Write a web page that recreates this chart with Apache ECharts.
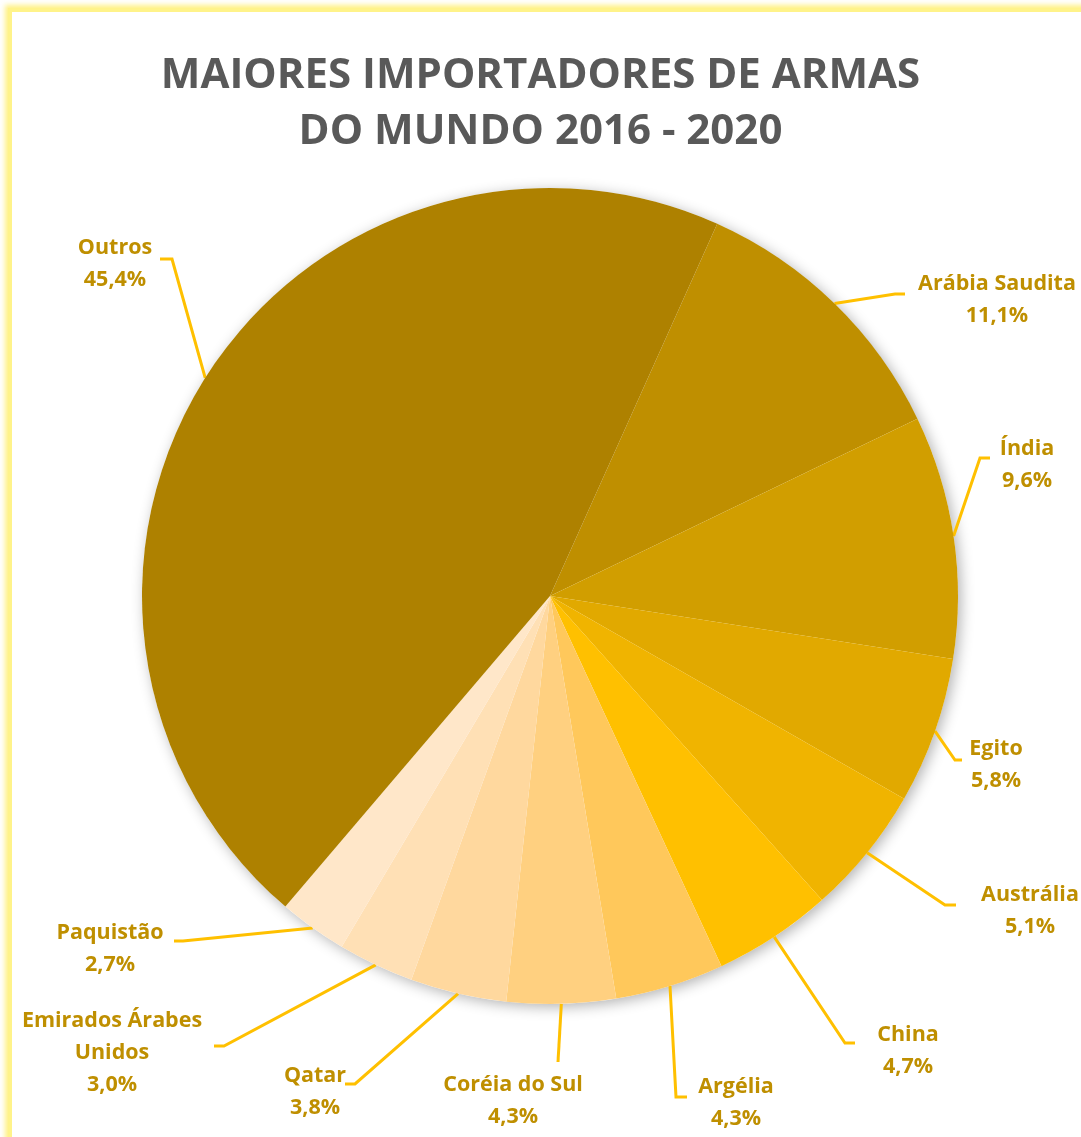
<!DOCTYPE html>
<html>
<head>
<meta charset="utf-8">
<script src="https://cdn.jsdelivr.net/npm/echarts@6/dist/echarts.min.js"></script>
<style>
  html, body { margin: 0; padding: 0; background: #ffffff; overflow: hidden; }
  #frame { position: absolute; left: 8px; top: 8px; width: 1200px; height: 1300px;
           border-left: 4px solid #FFF38A; border-top: 4px solid #FFF38A;
           box-shadow: -2px -2px 5px 1px rgba(255, 238, 110, 0.85); }
  #chart { position: absolute; left: 0; top: 0; width: 1081px; height: 1137px; }
</style>
</head>
<body>
<div id="frame"></div>
<div id="chart"></div>
<script>
// ---- data ----
const categories = ['Arábia Saudita', 'Índia', 'Egito', 'Austrália', 'China', 'Argélia',
                    'Coréia do Sul', 'Qatar', 'Emirados Árabes\nUnidos', 'Paquistão', 'Outros'];
const shares = [11.1, 9.6, 5.8, 5.1, 4.7, 4.3, 4.3, 3.8, 3.0, 2.7, 45.4];
const sliceColors = ['#BF8F00', '#D19E00', '#E1A900', '#F0B400', '#FFC000', '#FFC85B',
                     '#FFD080', '#FFD89E', '#FFE0B5', '#FFE7C9', '#AE8100'];
const titleText = 'MAIORES IMPORTADORES DE ARMAS\nDO MUNDO 2016 - 2020';

// ---- layout (manually placed labels, as in the original) ----
const CX = 550, CY = 596, R = 408;
const labelCenter = [[997, 300], [1027, 465], [996, 765], [1030, 911], [908, 1051], [736, 1103],
                     [513, 1101], [315, 1092], [112, 1053], [110, 949], [115, 264]];
const lineElbow = [[895, 294], [980, 458], [955, 760], [945, 905], [845, 1043], [676, 1097],
                   [558, 1062], [355, 1084], [224, 1046], [183, 941], [172, 259]];
const lineEnd = [[905, 294], [990, 458], [962, 760], [956, 905], [855, 1043], [687, 1097],
                 [558, 1062], [345, 1084], [214, 1046], [174, 941], [160, 259]];
const START_ANGLE = 65.8; // echarts: degrees ccw from 3 o'clock

const total = shares.reduce((a, b) => a + b, 0);
function midPoint(i) {
  let before = 0;
  for (let k = 0; k < i; k++) before += shares[k];
  const midFrac = (before + shares[i] / 2) / total;
  const ang = (START_ANGLE - midFrac * 360) * Math.PI / 180;
  return [CX + R * Math.cos(ang), CY - R * Math.sin(ang)];
}

const fmt = v => v.toFixed(1).replace('.', ',') + '%';

const chart = echarts.init(document.getElementById('chart'), null, { renderer: 'canvas' });
chart.setOption({
  backgroundColor: 'transparent',
  animation: false,
  title: {
    text: titleText,
    left: 'center',
    top: 43,
    textStyle: {
      fontFamily: 'Open Sans', fontWeight: 'bold', fontSize: 42, color: '#595959',
      lineHeight: 56
    }
  },
  series: [
    {
      // shadow disc underneath the slices
      type: 'pie', silent: true, z: 1,
      center: [CX, CY], radius: R,
      label: { show: false }, labelLine: { show: false },
      itemStyle: { color: '#ffffff', shadowBlur: 14, shadowColor: 'rgba(0,0,0,0.3)',
                   shadowOffsetX: 3, shadowOffsetY: 3 },
      data: [{ value: total, name: '' }]
    },
    {
      type: 'pie', z: 2,
      center: [CX, CY], radius: R,
      startAngle: START_ANGLE, clockwise: true,
      avoidLabelOverlap: false,
      data: categories.map((c, i) => ({ name: c, value: shares[i],
              itemStyle: { color: sliceColors[i] } })),
      itemStyle: { borderWidth: 0 },
      label: {
        show: true, position: 'outside',
        formatter: p => p.name + '\n' + fmt(p.value),
        fontFamily: 'Open Sans', fontWeight: 'bold', fontSize: 21.5,
        color: '#BF8F00', lineHeight: 32, align: 'center'
      },
      labelLine: { show: true, lineStyle: { color: '#FFC000', width: 3 } },
      labelLayout: function (p) {
        const i = p.dataIndex;
        return {
          x: labelCenter[i][0], y: labelCenter[i][1],
          align: 'center', verticalAlign: 'middle',
          labelLinePoints: [midPoint(i), lineElbow[i], lineEnd[i]]
        };
      }
    }
  ]
});
</script>
</body>
</html>
